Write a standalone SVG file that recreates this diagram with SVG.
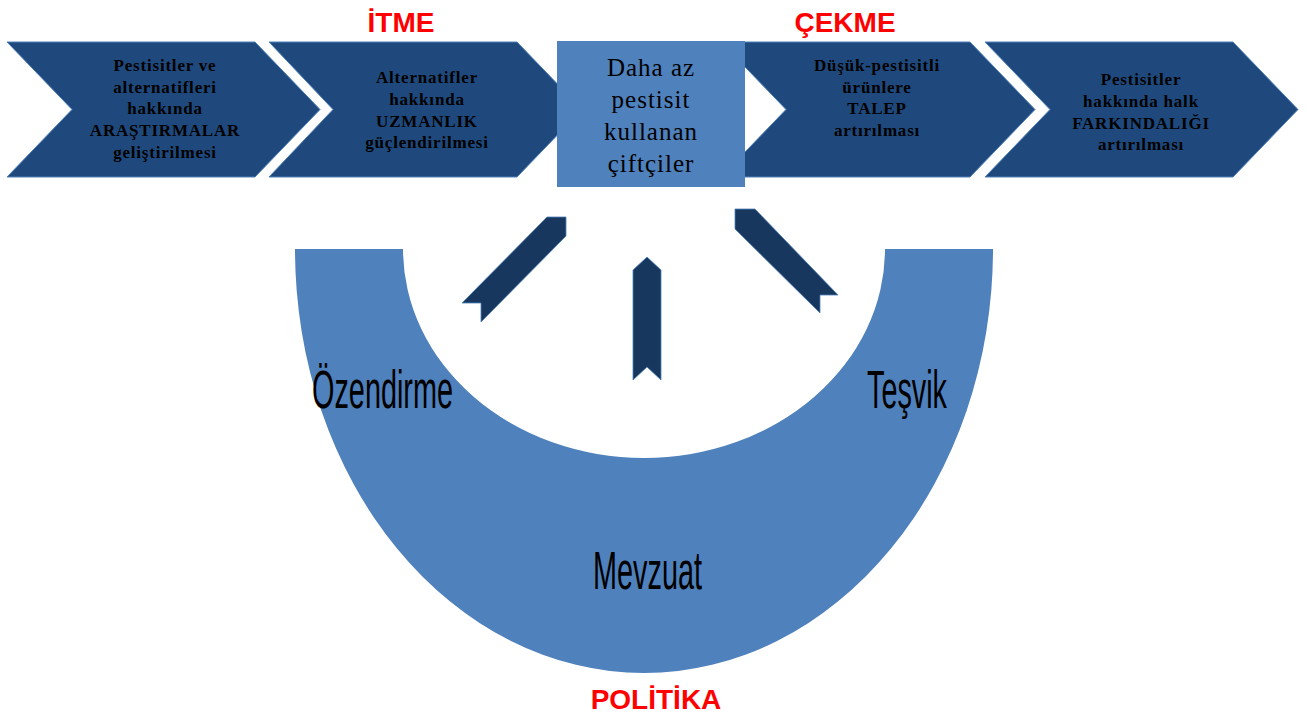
<svg xmlns="http://www.w3.org/2000/svg" width="1307" height="714" viewBox="0 0 1307 714">
<style>
.chev{fill:#1f497d;stroke:#4f81bd;stroke-width:1}
.ct{font-family:"Liberation Serif",serif;font-weight:bold;font-size:17px;letter-spacing:0.8px;fill:#000;text-anchor:middle}
.bt{font-family:"Liberation Serif",serif;font-size:25px;letter-spacing:1px;fill:#000;text-anchor:middle}
.red{font-family:"Liberation Sans",Arial,sans-serif;font-weight:bold;font-size:28px;fill:#ff0000;text-anchor:middle}
.rt{font-family:"Liberation Sans",Arial,sans-serif;font-size:54px;fill:#000}
.arr{fill:#17375e;stroke:#4f81bd;stroke-width:0.8}
</style>
<rect width="1307" height="714" fill="#ffffff"/>
<g id="labels">
<text class="red" x="401" y="32">İTME</text>
<text class="red" x="845" y="32">ÇEKME</text>
<text class="red" x="656" y="709">POLİTİKA</text>
</g>
<g id="ring">
<path d="M295 249 L403 249 A241 209 0 0 0 885 249 L993 249 A349 424 0 0 1 295 249 Z" fill="#4f81bd"/>
<text class="rt" x="312" y="408" textLength="141" lengthAdjust="spacingAndGlyphs">Özendirme</text>
<text class="rt" x="867" y="408" textLength="80" lengthAdjust="spacingAndGlyphs">Teşvik</text>
<text class="rt" x="593" y="589" textLength="109" lengthAdjust="spacingAndGlyphs">Mevzuat</text>
</g>
<g id="chevron1">
<polygon class="chev" points="7,42 255,42 320,109.5 255,177 7,177 72,109.5"/>
<text class="ct" x="165" y="71">Pestisitler ve</text>
<text class="ct" x="165" y="92.5">alternatifleri</text>
<text class="ct" x="165" y="114">hakkında</text>
<text class="ct" x="165" y="136">ARAŞTIRMALAR</text>
<text class="ct" x="165" y="157.5">geliştirilmesi</text>
</g>
<g id="chevron2">
<polygon class="chev" points="269,42 517,42 582,109.5 517,177 269,177 333,109.5"/>
<text class="ct" x="427" y="83">Alternatifler</text>
<text class="ct" x="427" y="104.5">hakkında</text>
<text class="ct" x="427" y="126.5">UZMANLIK</text>
<text class="ct" x="427" y="148">güçlendirilmesi</text>
</g>
<g id="chevron3">
<polygon class="chev" points="721,42 970,42 1035,109.5 970,177 721,177 786,109.5"/>
<text class="ct" x="877" y="71">Düşük-pestisitli</text>
<text class="ct" x="877" y="92.5">ürünlere</text>
<text class="ct" x="877" y="114">TALEP</text>
<text class="ct" x="877" y="136">artırılması</text>
</g>
<g id="chevron4">
<polygon class="chev" points="985,42 1233,42 1298,109.5 1233,177 985,177 1050,109.5"/>
<text class="ct" x="1141" y="85">Pestisitler</text>
<text class="ct" x="1141" y="106.5">hakkında halk</text>
<text class="ct" x="1141" y="128.5">FARKINDALIĞI</text>
<text class="ct" x="1141" y="150">artırılması</text>
</g>
<g id="center">
<rect x="557" y="41" width="188" height="146" fill="#4f81bd"/>
<text class="bt" x="651" y="76">Daha az</text>
<text class="bt" x="651" y="108">pestisit</text>
<text class="bt" x="651" y="140">kullanan</text>
<text class="bt" x="651" y="172">çiftçiler</text>
</g>
<g id="connectors">
<polygon class="arr" points="547,217 566,217 566,236 481,322 481,303 462,303"/>
<polygon class="arr" points="647,257 661,270 661,380 647,367 633,380 633,270"/>
<polygon class="arr" points="735,209 755,209 838,295 820,295 820,313 735,229"/>
</g>
</svg>
